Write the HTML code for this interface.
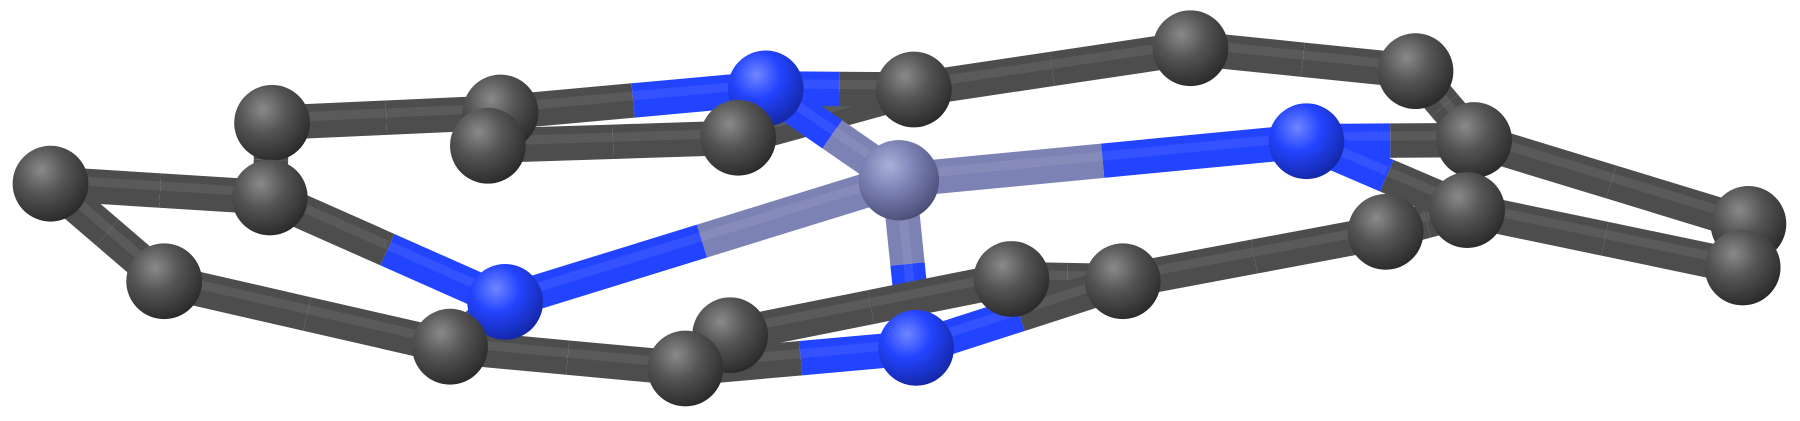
<!DOCTYPE html>
<html>
<head>
<meta charset="utf-8">
<style>
html,body{margin:0;padding:0;background:#fff;}
svg{display:block;}
</style>
</head>
<body>
<svg id="mol" width="1800" height="421" viewBox="0 0 1800 421" xmlns="http://www.w3.org/2000/svg">
<defs>
<radialGradient id="gC" cx="0.38" cy="0.32" r="0.7">
<stop offset="0" stop-color="#8a8a8a"/><stop offset="0.45" stop-color="#555"/><stop offset="1" stop-color="#2b2b2b"/>
</radialGradient>
<radialGradient id="gN" cx="0.38" cy="0.32" r="0.7">
<stop offset="0" stop-color="#6f86ff"/><stop offset="0.45" stop-color="#2344ff"/><stop offset="1" stop-color="#1428a8"/>
</radialGradient>
<radialGradient id="gM" cx="0.38" cy="0.32" r="0.7">
<stop offset="0" stop-color="#aab0d8"/><stop offset="0.45" stop-color="#7d82b5"/><stop offset="1" stop-color="#4b4f78"/>
</radialGradient>
</defs>
<g transform="scale(1.148)">
<g id="bonds"></g>
<g id="atoms"></g>
</g>
</svg>
<script>
const atomIds = ["A1","A2","A3","A4","A5","A6","A7","N1","A8","A9","A10","A11","N2","M","N3","A12","A13","A14","N4","A15","A16","A17","A18","A19","A20"];
const atomX = [44,237,235,143,436,425,643,667,796,1037,1233,1284,1138,783,440,392,597,636,798,881,978,1207,1278,1523,1518];
const atomY = [160,107,172,245,98,127,120,77,78,42,62,122,123,157,263,302,321,292,303,243,245,202,183,195,233];
const atomType = ["C","C","C","C","C","C","C","N","C","C","C","C","N","M","N","C","C","C","N","C","C","C","C","C","C"];
const bondFrom = ["A1","A1","A3","A2","A6","A5","A7","N1","A8","A9","A10","A11","N2","N1","M","M","N3","N3","A4","A12","A13","A13","A14","A15","A16","A16","A17","A18","A18","A11","A19"];
const bondTo   = ["A3","A4","A2","A5","A7","N1","A8","A8","A9","A10","A11","N2","M","M","N3","N4","A3","A12","A12","A13","N4","A14","A15","A16","N4","A17","A18","N2","A20","A19","A20"];
const colors = {C:"#4d4d4d",N:"#2344ff",M:"#7d82b5"};
const grads = {C:"url(#gC)",N:"url(#gN)",M:"url(#gM)"};
const radius = {C:33,N:33,M:35};
const NS="http://www.w3.org/2000/svg";
const idx = id => atomIds.indexOf(id);
const bg = document.getElementById('bonds');
for (let i=0;i<bondFrom.length;i++){
  const a=idx(bondFrom[i]), b=idx(bondTo[i]);
  const mx=(atomX[a]+atomX[b])/2, my=(atomY[a]+atomY[b])/2;
  [[a,mx,my],[b,mx,my]].forEach(([k,x2,y2])=>{
    const l=document.createElementNS(NS,'line');
    
    
    l.setAttribute('x1',atomX[k]);l.setAttribute('y1',atomY[k]);
    l.setAttribute('x2',x2);l.setAttribute('y2',y2);
    l.setAttribute('stroke',colors[atomType[k]]);
    l.setAttribute('stroke-width',30);
    bg.appendChild(l);
    const h=document.createElementNS(NS,'line');
    
    
    h.setAttribute('x1',atomX[k]);h.setAttribute('y1',atomY[k]-4);
    h.setAttribute('x2',x2);h.setAttribute('y2',y2-4);
    h.setAttribute('stroke','rgba(255,255,255,0.08)');
    h.setAttribute('stroke-width',8);
    bg.appendChild(h);
  });
}
const ag=document.getElementById('atoms');
const order=atomIds.map((_,i)=>i).sort((p,q)=>atomY[p]-atomY[q]);
order.forEach(i=>{
  const c=document.createElementNS(NS,'circle');
  
  
  c.setAttribute('cx',atomX[i]);c.setAttribute('cy',atomY[i]);
  c.setAttribute('r',radius[atomType[i]]);
  c.setAttribute('fill',grads[atomType[i]]);
  ag.appendChild(c);
});
</script>
</body>
</html>
